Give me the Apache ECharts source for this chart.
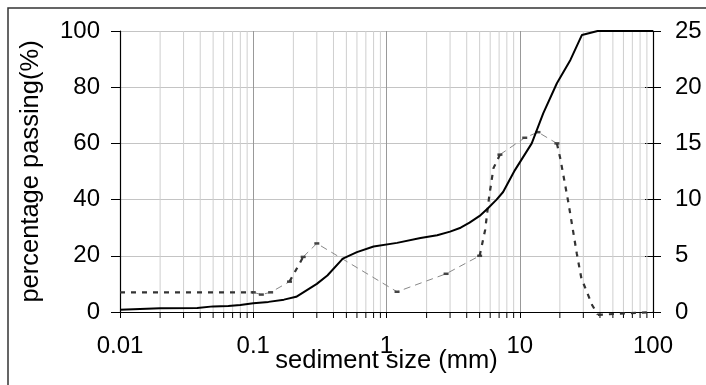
<!DOCTYPE html>
<html>
<head>
<meta charset="utf-8">
<script src="https://cdn.jsdelivr.net/npm/echarts@6/dist/echarts.min.js"></script>
<style>
  html, body { margin: 0; padding: 0; background: #fff; }
  #chart { width: 706px; height: 385px; }
</style>
</head>
<body>
<div id="chart"></div>
<script>
// cumulative curve, % passing (left axis)
const passing = [
  [0.01, 0.8], [0.02, 1.3], [0.038, 1.4], [0.05, 2], [0.065, 2.1], [0.08, 2.5],
  [0.1, 3.1], [0.13, 3.6], [0.17, 4.4], [0.21, 5.4], [0.3, 10], [0.36, 13],
  [0.47, 19], [0.6, 21.3], [0.8, 23.3], [1.2, 24.6], [1.8, 26.3], [2.4, 27.3],
  [3.0, 28.6], [3.6, 30], [4.2, 31.8], [5, 34.2], [5.8, 37], [6.7, 40],
  [7.5, 42.7], [9.2, 50.5], [12.3, 60], [15, 70.7], [19, 81.4], [24, 89.7],
  [29.3, 98.6], [38.4, 100], [100, 100]
];

// size distribution (right axis), split where the segment styling changes
const distFlat = [[0.01, 1.75], [0.1, 1.75]];
const distThin1 = [[0.1, 1.75], [0.115, 1.55], [0.135, 1.75], [0.187, 2.7]];
const distThick1 = [[0.187, 2.7], [0.237, 4.9]];
const distThin2 = [[0.237, 4.9], [0.3, 6.1], [1.2, 1.8], [2.8, 3.4], [5.0, 5.0]];
const distThick2 = [[5.0, 5.0], [5.5, 7.3], [5.9, 10.3], [6.35, 12.8], [7.1, 14.0]];
const distThin3 = [[7.1, 14.0], [10.9, 15.5], [13.7, 16.0], [19.0, 15.0]];
const distThick3 = [[19, 15], [20.2, 13.6], [23.2, 9.7], [26.8, 5.2], [29, 3], [35, 0.6], [38.6, -0.25]];
const distTail = [[38.6, -0.25], [100, 0]];

const xTickLabels = ['0.01', '0.1', '1', '10', '100'];
const minorX = [
  0.02, 0.03, 0.04, 0.05, 0.06, 0.07, 0.08, 0.09,
  0.2, 0.3, 0.4, 0.5, 0.6, 0.7, 0.8, 0.9,
  2, 3, 4, 5, 6, 7, 8, 9,
  20, 30, 40, 50, 60, 70, 80, 90
];

const font = "'Liberation Sans', Arial, sans-serif";
const chart = echarts.init(document.getElementById('chart'));

const thick = (data) => ({
  type: 'line', yAxisIndex: 1, data: data, showSymbol: false, clip: false,
  lineStyle: { color: '#333', width: 2.2, type: [5, 6] }, z: 4, silent: true
});
const thin = (data) => ({
  type: 'line', yAxisIndex: 1, data: data, symbol: 'rect', symbolSize: [5, 2.5],
  itemStyle: { color: '#444' }, clip: false,
  lineStyle: { color: '#888', width: 1, type: [7, 5] }, z: 3, silent: true
});

const options = {
  animation: false,
  backgroundColor: '#fff',
  grid: {
    left: 120, right: 53, top: 31, bottom: 73,
    containLabel: false, outerBoundsMode: 'none'
  },
  graphic: [{
    type: 'rect', shape: { x: 8, y: 8, width: 720, height: 400 },
    style: { fill: 'none', stroke: '#333', lineWidth: 1.5 }, z: 0
  }],
  xAxis: {
    type: 'log', logBase: 10, min: 0.01, max: 100,
    name: 'sediment size (mm)', nameLocation: 'middle', nameGap: 36,
    nameMoveOverlap: false,
    nameTextStyle: { fontFamily: font, fontSize: 25.5, color: '#000' },
    axisLine: { lineStyle: { color: '#000', width: 1.2 } },
    axisTick: { length: 6, lineStyle: { color: '#000' } },
    axisLabel: {
      margin: 22, fontFamily: font, fontSize: 24, color: '#000',
      formatter: (v, i) => xTickLabels[i]
    },
    splitLine: { show: true, lineStyle: { color: '#999', width: 1 } },
    minorTick: { show: false }
  },
  yAxis: [{
    type: 'value', min: 0, max: 100, interval: 20, position: 'left',
    name: 'percentage passing(%)', nameLocation: 'middle', nameGap: 76,
    nameMoveOverlap: false,
    nameTextStyle: { fontFamily: font, fontSize: 25.5, color: '#000' },
    axisLine: { show: true, lineStyle: { color: '#000', width: 1.2 } },
    axisTick: { show: true, length: 9, lineStyle: { color: '#000' } },
    axisLabel: { margin: 20, fontFamily: font, fontSize: 24, color: '#000' },
    splitLine: { show: true, lineStyle: { color: '#c4c4c4', width: 1 } }
  }, {
    type: 'value', min: 0, max: 25, interval: 5, position: 'right',
    axisLine: { show: true, lineStyle: { color: '#000', width: 1.2 } },
    axisTick: { show: true, length: 8, lineStyle: { color: '#000' } },
    axisLabel: { margin: 22, fontFamily: font, fontSize: 24, color: '#000' },
    splitLine: { show: false }
  }, {
    type: 'value', min: 0, max: 25, interval: 5, position: 'right',
    axisLine: { show: false },
    axisTick: { show: true, inside: true, length: 8, lineStyle: { color: '#000' } },
    axisLabel: { show: false },
    splitLine: { show: false }
  }],
  series: [
    {
      type: 'custom', data: minorX.map(v => [v]), silent: true, clip: false, z: 1,
      encode: { x: 0 },
      renderItem: (params, api) => {
        const x = api.value(0);
        const p0 = api.coord([x, 0]);
        const p1 = api.coord([x, 100]);
        return {
          type: 'group',
          children: [
            { type: 'line', shape: { x1: p0[0], y1: p0[1], x2: p1[0], y2: p1[1] },
              style: { stroke: '#cfcfcf', lineWidth: 1 } },
            { type: 'line', shape: { x1: p0[0], y1: p0[1], x2: p0[0], y2: p0[1] + 6 },
              style: { stroke: '#000', lineWidth: 1 } }
          ]
        };
      }
    },
    thick(distFlat),
    thin(distThin1),
    thick(distThick1),
    thin(distThin2),
    thick(distThick2),
    thin(distThin3),
    thick(distThick3),
    thick(distTail),
    {
      type: 'line', yAxisIndex: 0, data: passing, showSymbol: false, z: 5,
      lineStyle: { color: '#000', width: 2 }, silent: true
    }
  ]
};

chart.setOption(options);
</script>
</body>
</html>
